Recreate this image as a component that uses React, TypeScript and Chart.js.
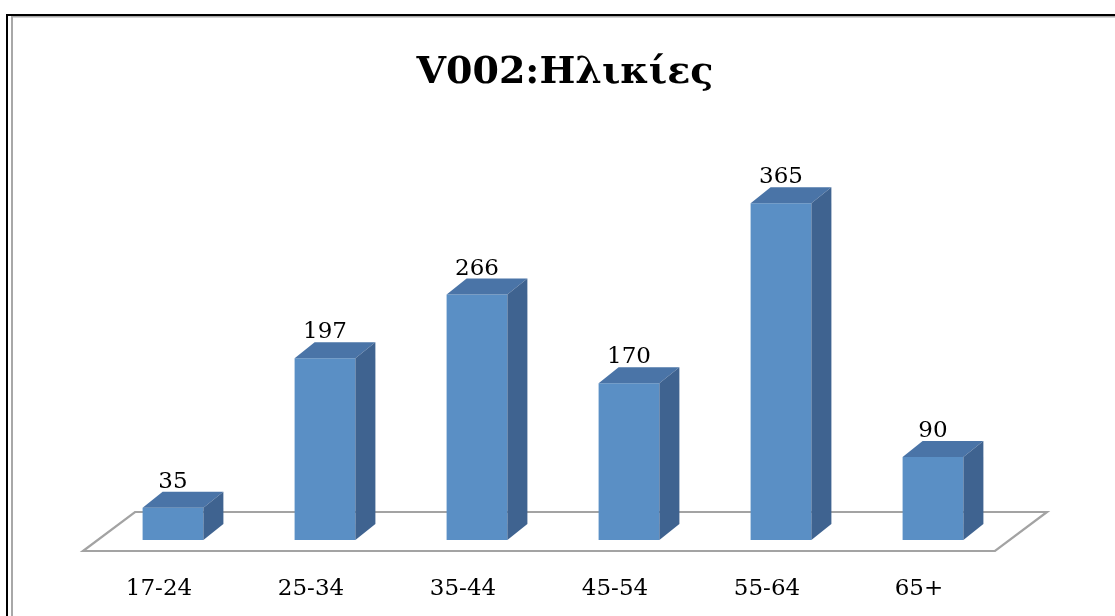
import React, { useEffect, useRef } from "react";
import { Chart, registerables } from "chart.js";

Chart.register(...registerables);

const TITLE = "V002:Ηλικίες";
const categories = ["17-24", "25-34", "35-44", "45-54", "55-64", "65+"];
const values = [35, 197, 266, 170, 365, 90];
const yMax = 400;

const FRONT = "#5A8FC5";
const TOP = "#4A74A7";
const SIDE = "#3F6390";
const FLOOR = "#A3A3A3";
const DEPTH_X = 20;
const DEPTH_Y = 16;

const threeD = {
  id: "threeD",
  beforeDatasetsDraw(chart: any) {
    const { ctx, chartArea } = chart;
    const L = chartArea.left, R = chartArea.right, B = chartArea.bottom;
    ctx.save();
    // frame
    ctx.fillStyle = "#000";
    ctx.fillRect(6, 14, 1115 - 6, 2);
    ctx.fillRect(6, 14, 2, 616 - 14);
    ctx.fillStyle = "#A8A8A8";
    ctx.fillRect(11, 16, 1115 - 11, 1.5);
    ctx.fillRect(11, 16, 2, 616 - 16);
    // floor
    ctx.beginPath();
    ctx.moveTo(L - 14, B + 11);
    ctx.lineTo(R - 14, B + 11);
    ctx.lineTo(R + 38, B - 28);
    ctx.lineTo(L + 38, B - 28);
    ctx.closePath();
    ctx.fillStyle = "#FFFFFF";
    ctx.fill();
    ctx.lineWidth = 2.2;
    ctx.strokeStyle = FLOOR;
    ctx.stroke();
    // title
    ctx.fillStyle = "#000";
    ctx.font = "bold 38px 'DejaVu Serif'";
    ctx.textAlign = "center";
    ctx.textBaseline = "alphabetic";
    ctx.fillText(TITLE, 565, 83);
    // category labels
    ctx.font = "23px 'DejaVu Serif'";
    const xs = chart.scales.x;
    categories.forEach((c, i) => {
      ctx.fillText(c, xs.getPixelForValue(i) - 14, 595);
    });
    ctx.restore();
  },
  afterDatasetsDraw(chart: any) {
    const { ctx } = chart;
    const meta = chart.getDatasetMeta(0);
    ctx.save();
    meta.data.forEach((bar: any, i: number) => {
      const p = bar.getProps(["x", "y", "base", "width"], true);
      const x0 = p.x - p.width / 2;
      const x1 = p.x + p.width / 2;
      const top = p.y;
      const base = p.base;
      // top face
      ctx.beginPath();
      ctx.moveTo(x0, top);
      ctx.lineTo(x1, top);
      ctx.lineTo(x1 + DEPTH_X, top - DEPTH_Y);
      ctx.lineTo(x0 + DEPTH_X, top - DEPTH_Y);
      ctx.closePath();
      ctx.fillStyle = TOP;
      ctx.fill();
      // side face
      ctx.beginPath();
      ctx.moveTo(x1, top);
      ctx.lineTo(x1 + DEPTH_X, top - DEPTH_Y);
      ctx.lineTo(x1 + DEPTH_X, base - DEPTH_Y);
      ctx.lineTo(x1, base);
      ctx.closePath();
      ctx.fillStyle = SIDE;
      ctx.fill();
      // value label
      ctx.fillStyle = "#000";
      ctx.font = "23px 'DejaVu Serif'";
      ctx.textAlign = "center";
      ctx.textBaseline = "alphabetic";
      ctx.fillText(String(values[i]), p.x, top - DEPTH_Y - 4);
    });
    ctx.restore();
  },
};

export default function App() {
  const ref = useRef<HTMLCanvasElement | null>(null);
  useEffect(() => {
    if (!ref.current) return;
    const chart = new Chart(ref.current, {
      type: "bar",
      data: {
        labels: categories,
        datasets: [
          {
            data: values,
            backgroundColor: FRONT,
            borderWidth: 0,
            barPercentage: 0.4,
            categoryPercentage: 1,
          },
        ],
      },
      options: {
        responsive: false,
        animation: false,
        layout: { padding: { left: 97, right: 106, top: 171, bottom: 76 } },
        plugins: { legend: { display: false }, tooltip: { enabled: false }, title: { display: false } },
        scales: {
          x: { display: false },
          y: { display: false, min: 0, max: yMax },
        },
      },
      plugins: [threeD],
    });
    return () => chart.destroy();
  }, []);
  return (
    <div style={{ position: "fixed", left: 0, top: 0, width: 1115, height: 616, background: "#fff" }}>
      <canvas ref={ref} width={1115} height={616} style={{ display: "block" }} />
    </div>
  );
}
